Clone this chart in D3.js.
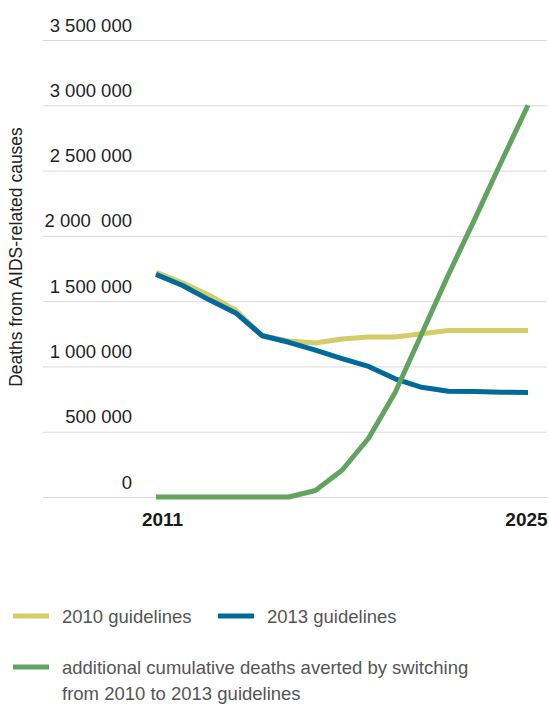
<!DOCTYPE html>
<html>
<head>
<meta charset="utf-8">
<script src="https://cdn.jsdelivr.net/npm/d3@7"></script>
<style>
  html, body { margin: 0; padding: 0; background: #fff; }
  svg { display: block; font-family: "Liberation Sans", Arial, sans-serif; }
  text { white-space: pre; }
</style>
</head>
<body>
<div id="main"></div>
<script>
// values
let years = [2011, 2012, 2013, 2014, 2015, 2016, 2017, 2018, 2019, 2020, 2021, 2022, 2023, 2024, 2025];
let guidelines2010 = [1720000, 1640000, 1545000, 1430000, 1235000, 1195000, 1180000, 1210000, 1225000, 1225000, 1250000, 1275000, 1275000, 1275000, 1275000];
let guidelines2013 = [1705000, 1620000, 1510000, 1410000, 1235000, 1185000, 1125000, 1060000, 1000000, 905000, 840000, 810000, 808000, 803000, 800000];
let averted = [0, 0, 0, 0, 0, 0, 50000, 205000, 450000, 800000, 1250000, 1700000, 2130000, 2570000, 3000000];

let yTicks = [0, 500000, 1000000, 1500000, 2000000, 2500000, 3000000, 3500000];
let yTickLabels = ['0', '500 000', '1 000 000', '1 500 000', '2 000  000', '2 500 000', '3 000 000', '3 500 000'];
let xTicks = [2011, 2025];
let yTitle = 'Deaths from AIDS-related causes';

let series = [
  {name: '2010 guidelines', values: guidelines2010, color: '#d3cc67'},
  {name: '2013 guidelines', values: guidelines2013, color: '#006a9c'},
  {name: 'additional cumulative deaths averted by switching|from 2010 to 2013 guidelines', values: averted, color: '#62a35f'},
];

let [width, height] = [549, 704];
let svg = d3.select('#main')
  .append('svg')
  .attr('width', width)
  .attr('height', height);

let sx = d3.scaleLinear().domain([2011, 2025]).range([156, 528]);
let sy = d3.scaleLinear().domain([0, 3500000]).range([497, 40]);

// y axis with gridlines, labels sit above each line
let gridLeft = 43, gridRight = 547;
svg.append('g')
  .attr('transform', `translate(${gridLeft},0)`)
  .call(d3.axisLeft(sy)
    .tickValues(yTicks)
    .tickSize(-(gridRight - gridLeft))
    .tickFormat((d, i) => yTickLabels[i]))
  .call(g => g.select('.domain').remove())
  .call(g => g.selectAll('.tick line').attr('stroke', '#d9d9d9').attr('stroke-width', 1))
  .call(g => g.selectAll('.tick text')
    .attr('x', 132 - gridLeft)
    .attr('y', -9)
    .attr('dy', 0)
    .attr('text-anchor', 'end')
    .attr('fill', '#1f1f1f')
    .style('font-size', '18.5px'));

// x axis, only first and last year
svg.append('g')
  .attr('transform', 'translate(0,497)')
  .call(d3.axisBottom(sx).tickValues(xTicks).tickFormat(d3.format('d')).tickSize(0))
  .call(g => g.select('.domain').remove())
  .call(g => g.selectAll('.tick text')
    .attr('y', 29)
    .attr('dy', 0)
    .attr('dx', d => d === 2011 ? 6 : -2)
    .attr('fill', '#1a1a1a')
    .style('font-size', '19px')
    .style('font-weight', 'bold'));

svg.append('text')
  .attr('transform', 'translate(22,257) rotate(-90)')
  .attr('text-anchor', 'middle')
  .attr('fill', '#222')
  .style('font-size', '17.5px')
  .text(yTitle);

let line = d3.line()
  .x((d, i) => sx(years[i]))
  .y(d => sy(d));

svg.selectAll('.series')
  .data(series)
  .join('path')
  .attr('class', 'series')
  .attr('d', d => line(d.values))
  .attr('fill', 'none')
  .attr('stroke', d => d.color)
  .attr('stroke-width', 5)
  .attr('stroke-linejoin', 'round');

// legend
let legendPos = [[13, 616], [218, 616], [13, 667]];
let legend = svg.selectAll('.legend')
  .data(series)
  .join('g')
  .attr('class', 'legend')
  .attr('transform', (d, i) => `translate(${legendPos[i][0]},${legendPos[i][1]})`);
legend.append('line')
  .attr('x1', 0).attr('x2', 36)
  .attr('stroke', d => d.color)
  .attr('stroke-width', 5);
legend.append('text')
  .attr('fill', '#555')
  .style('font-size', '18.5px')
  .selectAll('tspan')
  .data(d => d.name.split('|'))
  .join('tspan')
  .attr('x', 49)
  .attr('y', (d, i) => 7 + i * 26)
  .text(d => d);
</script>
</body>
</html>
